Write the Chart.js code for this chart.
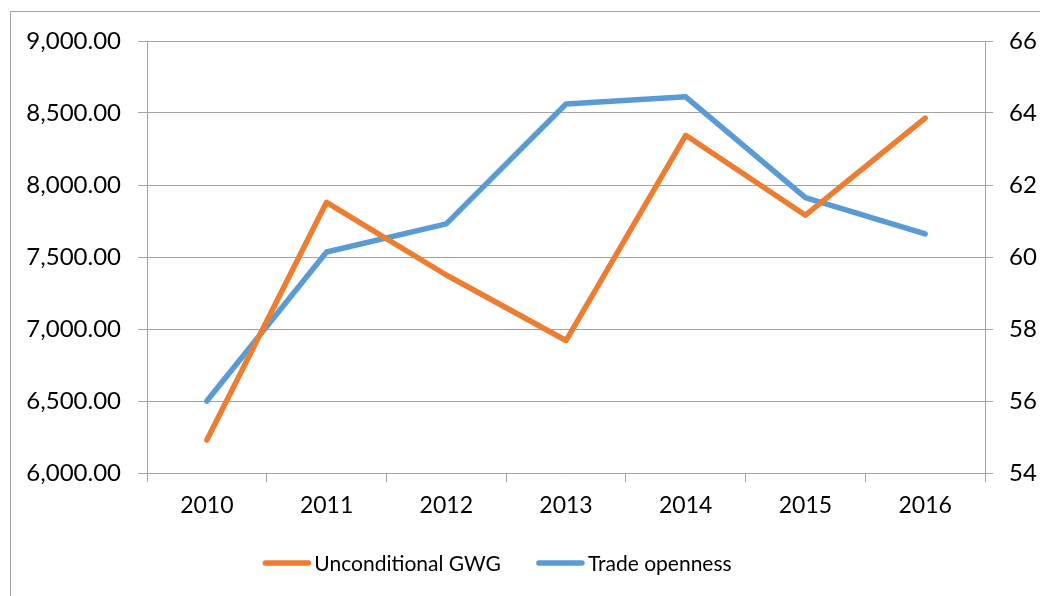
<!DOCTYPE html>
<html>
<head>
<meta charset="utf-8">
<script src="https://cdn.jsdelivr.net/npm/chart.js@4/dist/chart.umd.min.js"></script>
<style>
  html, body { margin: 0; padding: 0; background: #fff; }
  #wrap { position: relative; width: 1040px; height: 596px; }
</style>
</head>
<body>
<div id="wrap"><canvas id="line-chart" width="1040" height="596"></canvas></div>
<script>
// data
const years = ["2010", "2011", "2012", "2013", "2014", "2015", "2016"];
const gwgValues = [6229, 7880, 7375, 6920, 8345, 7790, 8465];
const tradeValues = [56.0, 60.14, 60.92, 64.25, 64.45, 61.65, 60.64];
const leftTicks = [6000, 9000, 500];   // min, max, step
const rightTicks = [54, 66, 2];

const gridGrey = "#a3a3a3";
const tickFont = { family: "Lato", size: 23 };

// thin frame around the chart, cut off at right/bottom like the source
const framePlugin = {
  id: "frame",
  beforeDraw(chart) {
    const ctx = chart.ctx;
    ctx.save();
    ctx.strokeStyle = "#a6a6a6";
    ctx.lineWidth = 1;
    ctx.strokeRect(10.5, 11.5, 1200, 800);
    ctx.restore();
  },
};

// excel-ish legend: short line, tiny gap, then text
const legendPlugin = {
  id: "xlLegend",
  afterDraw(chart) {
    const ctx = chart.ctx;
    const sets = chart.data.datasets;
    const lineW = 49, gap = 3, between = 35, cy = 563, cx = 497;
    ctx.save();
    ctx.font = "21px Lato";
    const widths = sets.map((d) => ctx.measureText(d.label).width);
    let total = 0;
    widths.forEach((w, i) => {
      total += lineW + gap + w + (i < widths.length - 1 ? between : 0);
    });
    let x = cx - total / 2;
    sets.forEach((d, i) => {
      ctx.strokeStyle = d.borderColor;
      ctx.lineWidth = 5.5;
      ctx.lineCap = "round";
      ctx.beginPath();
      ctx.moveTo(x + 3, cy);
      ctx.lineTo(x + lineW - 3, cy);
      ctx.stroke();
      x += lineW + gap;
      ctx.fillStyle = "#000";
      ctx.textBaseline = "middle";
      ctx.fillText(d.label, x, cy + 1);
      x += widths[i] + between;
    });
    ctx.restore();
  },
};

const ctx = document.getElementById("line-chart");
new Chart(ctx, {
  type: "line",
  data: {
    labels: years,
    datasets: [
      {
        label: "Unconditional GWG",
        data: gwgValues,
        yAxisID: "y",
        borderColor: "#ED7D31",
        backgroundColor: "#ED7D31",
        borderWidth: 5.5,
        borderCapStyle: "round",
        borderJoinStyle: "round",
        pointRadius: 0,
        tension: 0,
      },
      {
        label: "Trade openness",
        data: tradeValues,
        yAxisID: "y1",
        borderColor: "#5B9BD5",
        backgroundColor: "#5B9BD5",
        borderWidth: 5.5,
        borderCapStyle: "round",
        borderJoinStyle: "round",
        pointRadius: 0,
        tension: 0,
      },
    ],
  },
  options: {
    responsive: false,
    animation: false,
    layout: { padding: { top: 41, bottom: 79, left: 0, right: 0 } },
    plugins: {
      legend: { display: false },
      tooltip: { enabled: false },
    },
    scales: {
      x: {
        offset: true,
        grid: {
          offset: true,
          drawOnChartArea: false,
          drawTicks: true,
          tickLength: 9,
          color: gridGrey,
        },
        border: { color: gridGrey },
        ticks: { color: "#000", font: tickFont, padding: 10 },
        afterFit(scale) {
          scale.height = 44;
        },
      },
      y: {
        position: "left",
        min: leftTicks[0],
        max: leftTicks[1],
        ticks: {
          stepSize: leftTicks[2],
          color: "#000",
          font: { family: "Lato", size: 24 },
          padding: 17,
          callback: (v) =>
            v.toLocaleString("en-US", { minimumFractionDigits: 2, maximumFractionDigits: 2 }),
        },
        grid: { color: gridGrey, tickLength: 9 },
        border: { color: gridGrey },
        afterFit(scale) {
          scale.width = 147;
        },
      },
      y1: {
        position: "right",
        min: rightTicks[0],
        max: rightTicks[1],
        ticks: { stepSize: rightTicks[2], color: "#000", font: { family: "Lato", size: 24 }, padding: 16 },
        grid: { drawOnChartArea: false, color: gridGrey, tickLength: 8 },
        border: { color: gridGrey },
        afterFit(scale) {
          scale.width = 55;
        },
      },
    },
  },
  plugins: [framePlugin, legendPlugin],
});
</script>
</body>
</html>
